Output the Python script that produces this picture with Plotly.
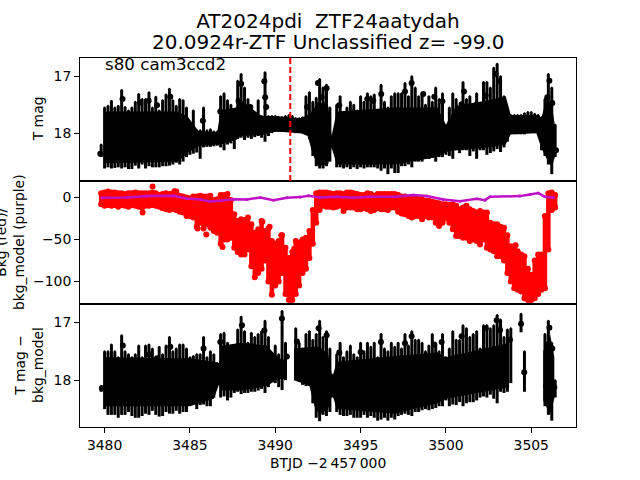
import plotly.graph_objects as go

FONT = "DejaVu Sans"

# observation times (BTJD - 2457000)
t = [3479.8,3480.0,3480.2,3480.4,3480.6,3480.8,3481.0,3481.2,3481.4,3481.6,
     3481.8,3482.0,3482.2,3482.4,3482.6,3482.8,3483.0,3483.2,3483.4,3483.6,
     3483.8,3484.0,3484.2,3484.4,3484.6,3484.8,3485.0,3485.2,3485.4,3485.6,
     3485.8,3486.0,3486.2,3486.4,3486.6,3486.8,3487.0,3487.2,3487.4,3487.6,
     3487.8,3488.0,3488.2,3488.4,3488.6,3488.8,3489.0,3489.2,3489.4,3489.6,
     3489.8,3490.0,3490.2,3490.4,3490.6,3490.8,3491.0,3491.2,3491.4,3491.6,
     3491.8,3492.0,3492.2,3492.4,3492.6,3492.8,3493.0,3493.2,3493.4,3493.6,
     3493.8,3494.0,3494.2,3494.4,3494.6,3494.8,3495.0,3495.2,3495.4,3495.6,
     3495.8,3496.0,3496.2,3496.4,3496.6,3496.8,3497.0,3497.2,3497.4,3497.6,
     3497.8,3498.0,3498.2,3498.4,3498.6,3498.8,3499.0,3499.2,3499.4,3499.6,
     3499.8,3500.0,3500.2,3500.4,3500.6,3500.8,3501.0,3501.2,3501.4,3501.6,
     3501.8,3502.0,3502.2,3502.4,3502.6,3502.8,3503.0,3503.2,3503.4,3503.6,
     3503.8,3504.0,3504.2,3504.4,3504.6,3504.8,3505.0,3505.2,3505.4,3505.6,
     3505.8,3506.0,3506.2,3506.4]

# panel 1: T mag, bright edge and faint edge of the error bars
mag_hi = [18.2,17.55,17.52,17.43,17.55,17.52,17.24,17.54,17.6,17.55,
          17.45,17.31,17.4,17.4,17.28,17.55,17.36,17.6,17.42,17.32,
          17.22,17.42,17.52,17.4,17.42,17.55,17.88,17.6,17.95,17.95,
          17.55,17.95,17.93,17.97,17.97,17.35,17.3,17.42,17.5,17.75,
          17.08,16.96,17.2,17.4,17.55,17.88,17.42,17.7,16.93,17.7,
          17.7,17.7,17.72,17.72,17.7,17.68,17.7,17.74,17.74,17.72,
          17.35,17.28,17.45,17.38,17.05,17.2,17.15,17.55,18.05,17.5,
          17.35,17.65,17.55,17.45,17.5,17.6,17.35,17.45,17.3,17.35,
          17.32,17.6,17.15,17.45,17.55,17.35,17.3,17.3,17.3,17.12,
          17.35,17.0,17.2,17.35,17.32,17.5,17.35,17.45,17.2,17.4,
          17.3,17.9,17.55,17.3,17.4,17.75,17.1,17.4,17.35,17.55,
          17.3,17.65,17.1,17.1,17.2,16.85,16.78,17.0,17.35,17.65,
          17.68,17.68,17.68,17.68,17.65,17.63,17.63,17.66,17.68,17.72,
          17.4,16.96,17.2,17.85]
mag_lo = [18.42,18.62,18.6,18.62,18.61,18.6,18.62,18.6,18.63,18.63,
          18.57,18.62,18.55,18.62,18.58,18.6,18.6,18.6,18.58,18.58,
          18.57,18.55,18.52,18.55,18.5,18.42,18.38,18.36,18.34,18.45,
          18.25,18.24,18.24,18.23,18.22,18.25,18.3,18.2,18.18,18.28,
          18.1,18.08,18.12,18.08,18.1,18.07,18.05,18.08,18.15,18.05,
          18.0,17.98,17.98,17.98,17.98,17.98,17.98,18.0,18.0,18.0,
          18.02,18.1,18.4,18.58,18.62,18.62,18.58,18.5,18.28,18.6,
          18.6,18.62,18.6,18.63,18.6,18.63,18.6,18.62,18.6,18.6,
          18.6,18.62,18.66,18.62,18.72,18.62,18.7,18.7,18.58,18.58,
          18.55,18.6,18.5,18.5,18.5,18.45,18.45,18.43,18.5,18.42,
          18.42,18.38,18.4,18.45,18.3,18.35,18.3,18.3,18.4,18.32,
          18.45,18.3,18.3,18.38,18.35,18.32,18.28,18.33,18.25,18.15,
          18.02,18.02,18.02,18.02,18.02,18.0,17.97,18.0,18.0,18.3,
          18.4,18.55,18.72,18.42]
dots1_t = [3479.75,3481.05,3482.09,3482.58,3483.07,3483.85,3485.76,3486.78,3487.32,3487.85,
           3488.0,3488.54,3489.36,3489.41,3489.47,3490.88,3491.86,3492.5,3492.72,3492.91,
           3493.01,3493.75,3495.39,3495.74,3496.21,3497.6,3497.99,3498.67,3499.32,3499.79,
           3500.92,3501.06,3501.8,3502.33,3502.91,3503.11,3503.56,3505.94,3506.06,3506.23,3506.45]
dots1_mag = [18.36,17.40,17.46,17.43,17.51,17.36,17.78,17.62,17.70,17.43,
             17.13,17.54,17.09,17.37,17.54,17.78,17.54,17.12,17.37,17.51,
             17.21,17.51,17.40,17.43,17.31,17.27,17.12,17.31,17.36,17.44,
             17.49,17.27,17.49,17.34,16.96,17.09,17.66,17.37,17.08,17.47,18.30]

# panel 1: where the many overlapping error bars merge into a solid band
core1_t = [3480.0,3484.3,3484.9,3485.5,3486.6,3486.8,3487.7,3488.0,3489.2,3490.0,
           3491.5,3491.9,3492.2,3492.5,3493.1,3493.3,3493.6,3497.0,3499.5,3500.0,
           3500.6,3502.5,3503.5,3503.8,3505.3,3505.6,3505.9,3506.2,3506.4]
core1_hi = [17.62,17.62,17.72,17.96,17.98,17.6,17.55,17.42,17.7,17.7,
            17.74,17.68,17.6,17.45,17.52,18.05,17.62,17.55,17.55,17.85,
            17.52,17.42,17.35,17.68,17.68,17.72,17.4,17.5,17.9]
core1_lo = [18.53,18.5,18.34,18.23,18.2,18.2,18.12,18.05,18.03,17.97,
            18.0,18.05,18.37,18.57,18.55,18.25,18.55,18.55,18.42,18.33,
            18.3,18.25,18.2,18.02,18.0,18.27,18.45,18.6,18.4]

# panel 2: background flux (red) and background model (purple)
bkg_hi = [5,6,7,6,6,5,5,4,5,5,6,5,5,5,5,6,5,3,4,5,
          4,5,7,2,1,0,-1,1,1,2,1,1,2,-3,-2,3,3,4,-3,-20,
          -28,-26,-27,-24,-32,-42,-38,-28,-40,-37,-52,-55,-52,-45,-60,-72,-65,-52,-55,-50,
          -48,-40,-15,5,6,6,6,5,4,5,5,4,6,6,5,4,3,3,5,4,
          2,4,4,4,4,4,4,3,1,1,0,0,-1,-2,-2,-4,-4,-5,-6,-7,
          -8,-8,-9,-8,-10,-14,-12,-10,-14,-16,-18,-16,-18,-18,-30,-32,-32,-35,-36,-45,
          -58,-62,-64,-68,-70,-85,-92,-75,-68,-68,-22,5,6,3]
bkg_lo = [-8,-10,-9,-10,-9,-11,-9,-10,-11,-9,-10,-11,-12,-10,-10,-9,-10,-11,-13,-14,
          -15,-14,-15,-17,-18,-22,-22,-24,-35,-30,-37,-32,-36,-40,-42,-55,-50,-50,-48,-60,
          -65,-68,-68,-62,-82,-95,-90,-85,-75,-100,-116,-105,-100,-90,-115,-122,-122,-115,-105,-90,
          -85,-72,-55,-30,-15,-10,-11,-11,-12,-11,-10,-16,-12,-12,-12,-14,-14,-13,-14,-16,
          -15,-13,-14,-14,-15,-12,-12,-17,-19,-20,-22,-24,-22,-22,-26,-22,-24,-24,-30,-34,
          -30,-25,-30,-38,-46,-46,-48,-48,-52,-50,-52,-56,-50,-60,-62,-64,-70,-70,-75,-90,
          -100,-108,-110,-112,-120,-122,-122,-120,-115,-110,-108,-62,-15,-12]
bkg_dots_t = [3482.23,3482.81,3484.1,3485.45,3485.96,3486.91,3489.04,3489.25,3489.67,3490.35,3491.11,3491.5,3504.08]
bkg_dots_v = [-18,13,7.5,-37,-44,-59,-40,-29,-35,-45,-61,-53,-57]
model_t = [3479.84,3481.31,3482.48,3484.04,3484.82,3485.61,3486.19,3486.78,3487.56,3488.34,
           3489.12,3489.9,3490.68,3491.46,3491.95,3492.62,3493.6,3494.57,3495.55,3497.11,
           3498.09,3498.87,3499.85,3500.82,3501.8,3502.29,3502.58,3504.34,3504.92,3505.41,3505.8,3506.29]
model_v = [-0.4,0,1.6,2,-1.2,-2.4,-4.8,-4,-2,-2.4,
           0,-3.2,-0.4,0.4,2,0,0.8,-0.4,0.8,0.8,
           2.8,1.6,-2.4,-4.4,-1.6,-3.2,0.8,1.6,3.6,5.2,0.8,0]

# panel 3: T mag - bkg_model
sub_hi = [18.1,17.5,17.5,17.38,17.5,17.6,17.22,17.5,17.55,17.6,
          17.55,17.4,17.6,17.4,17.38,17.45,17.6,17.42,17.55,17.4,
          17.25,17.5,17.45,17.38,17.38,17.45,17.6,17.58,17.55,17.55,
          17.25,17.6,17.5,17.55,17.7,17.2,17.18,17.35,17.45,17.5,
          17.12,16.9,17.15,17.35,17.18,17.25,17.2,17.15,16.97,17.25,
          17.6,17.4,17.55,16.8,17.35,None,None,17.1,17.35,17.45,
          17.2,17.15,17.3,17.2,16.97,17.25,17.15,17.45,17.9,17.55,
          17.35,17.6,17.5,17.4,17.55,17.6,17.35,17.5,17.35,17.42,
          17.35,17.6,17.2,17.45,17.5,17.35,17.42,17.35,17.45,17.2,
          17.4,17.15,17.3,17.3,17.35,17.5,17.4,17.2,17.4,17.5,
          17.2,17.6,17.45,17.15,17.3,17.3,17.05,17.1,17.25,17.2,
          17.15,17.45,17.05,17.05,17.1,17.05,16.87,16.95,17.25,17.12,
          17.1,None,None,16.85,17.5,None,None,None,None,None,
          17.2,16.97,17.35,18.0]
sub_lo = [18.2,18.5,18.6,18.6,18.6,18.65,18.6,18.6,18.55,18.62,
          18.65,18.65,18.62,18.58,18.6,18.53,18.6,18.63,18.62,18.55,
          18.58,18.58,18.53,18.58,18.55,18.55,18.42,18.35,18.5,18.43,
          18.42,18.45,18.45,18.3,18.05,18.3,18.28,18.35,18.3,18.22,
          18.2,18.24,18.22,18.22,18.2,18.2,18.18,18.15,18.22,18.12,
          18.0,18.05,18.12,18.17,18.0,None,None,18.0,18.02,18.08,
          18.1,18.1,18.4,18.65,18.71,18.6,18.62,18.55,18.3,18.55,
          18.6,18.62,18.62,18.6,18.65,18.65,18.65,18.6,18.65,18.62,
          18.65,18.7,18.68,18.65,18.7,18.65,18.68,18.62,18.6,18.58,
          18.6,18.62,18.55,18.55,18.52,18.5,18.52,18.5,18.48,18.45,
          18.45,18.35,18.45,18.42,18.43,18.38,18.45,18.4,18.38,18.38,
          18.35,18.3,18.28,18.3,18.25,18.32,18.4,18.2,18.22,18.2,
          18.05,None,None,17.17,18.2,None,None,None,None,None,
          18.45,18.6,18.7,18.3]
dots3_t = [3479.84,3481.07,3482.62,3483.07,3483.85,3485.8,3486.45,3486.78,3488.05,3489.36,
           3490.39,3490.68,3491.27,3492.54,3493.01,3493.75,3495.0,3496.19,3497.6,3497.99,
           3499.32,3499.75,3500.92,3502.33,3502.97,3503.17,3503.75,3504.4,3504.59,3505.86,
           3505.94,3506.06,3506.23,3506.35]
dots3_mag = [18.14,17.40,17.55,17.62,17.42,17.45,17.88,17.34,17.05,17.14,
             16.93,17.59,17.33,17.10,17.22,17.52,17.51,17.34,17.36,17.24,
             17.38,17.34,17.24,17.10,16.96,17.13,17.30,17.02,17.86,18.10,
             17.38,17.09,17.45,18.12]

# panel 3: solid band, None marks the gaps in coverage
core3_t = [3480.0,3485.0,3486.4,3486.7,3486.9,3488.0,3489.5,3490.2,3490.6,None,
           3491.1,3492.0,3492.3,3492.6,3493.1,3493.35,3493.6,3497.0,3499.5,3500.0,3503.7,None,
           3505.7,3506.1,3506.35]
core3_hi = [17.6,17.62,17.68,17.7,17.4,17.35,17.4,17.62,17.65,None,
            17.45,17.42,17.42,17.42,17.55,17.95,17.68,17.58,17.52,17.6,17.35,None,
            17.5,17.2,17.6]
core3_lo = [18.45,18.45,18.32,18.08,18.18,18.18,18.1,17.98,17.98,None,
            18.0,18.1,18.45,18.6,18.5,18.25,18.5,18.58,18.4,18.32,18.12,None,
            18.35,18.6,18.32]

vline_t = 3490.88
x_ticks = [3480, 3485, 3490, 3495, 3500, 3505]
mag_ticks = [17, 18]
bkg_ticks = [0, -50, -100]

BAR_BLACK = 3
BAR_RED = 4.5


def bars(x, hi, lo, color, xa, ya, size, bar):
    plus = [None if a is None else round(b - a, 3) for a, b in zip(hi, lo)]
    return go.Scatter(x=x, y=hi, mode="markers", xaxis=xa, yaxis=ya, showlegend=False,
                      marker=dict(color=color, size=size),
                      error_y=dict(type="data", symmetric=False, array=plus,
                                   arrayminus=[0 for _ in plus], color=color,
                                   thickness=bar, width=0))


def dots(x, y, color, xa, ya, size):
    return go.Scatter(x=x, y=y, mode="markers", xaxis=xa, yaxis=ya, showlegend=False,
                      marker=dict(color=color, size=size))


def band(x, hi, lo, color, xa, ya):
    px, py, sx, sh, sl = [], [], [], [], []
    for a, b, c in list(zip(x, hi, lo)) + [(None, None, None)]:
        if a is None:
            px += sx + sx[::-1] + [None]
            py += sh + sl[::-1] + [None]
            sx, sh, sl = [], [], []
        else:
            sx.append(a)
            sh.append(b)
            sl.append(c)
    return go.Scatter(x=px, y=py, mode="lines", fill="toself", fillcolor=color, xaxis=xa, yaxis=ya,
                      showlegend=False, line=dict(color=color, width=0))


fig = go.Figure()
fig.add_trace(band(core1_t, core1_hi, core1_lo, "black", "x", "y"))
fig.add_trace(bars(t, mag_hi, mag_lo, "black", "x", "y", 2, BAR_BLACK))
fig.add_trace(dots(dots1_t, dots1_mag, "black", "x", "y", 6))
fig.add_trace(bars(t, bkg_hi, bkg_lo, "red", "x2", "y2", 6, BAR_RED))
fig.add_trace(dots(t, bkg_lo, "red", "x2", "y2", 6))
fig.add_trace(dots(bkg_dots_t, bkg_dots_v, "red", "x2", "y2", 6))
fig.add_trace(go.Scatter(x=model_t, y=model_v, mode="lines+markers", xaxis="x2", yaxis="y2",
                         showlegend=False, line=dict(color="#bf10c8", width=2.5),
                         marker=dict(color="#bf10c8", size=3)))
fig.add_trace(band(core3_t, core3_hi, core3_lo, "black", "x3", "y3"))
fig.add_trace(bars(t, sub_hi, sub_lo, "black", "x3", "y3", 2, BAR_BLACK))
fig.add_trace(dots(dots3_t, dots3_mag, "black", "x3", "y3", 6))

xbase = dict(range=[3478.56, 3507.62], showgrid=False, zeroline=False, showline=True,
             mirror=True, linecolor="black", linewidth=1.1)
ybase = dict(showgrid=False, zeroline=False, showline=True, mirror=True, linecolor="black",
             linewidth=1.1, ticks="outside", ticklen=4.9, tickwidth=1.1, tickcolor="black",
             tickmode="array")

fig.update_layout(
    width=640, height=480, autosize=False,
    margin=dict(l=80, r=64, t=57.6, b=52.8, pad=0),
    paper_bgcolor="white", plot_bgcolor="white",
    font=dict(family=FONT, size=13.9, color="black"),
    showlegend=False,
    xaxis=dict(xbase, domain=[0, 1], anchor="y", showticklabels=False, ticks=""),
    xaxis2=dict(xbase, domain=[0, 1], anchor="y2", showticklabels=False, ticks=""),
    xaxis3=dict(xbase, domain=[0, 1], anchor="y3", ticks="outside", ticklen=4.9, tickwidth=1.1,
                tickcolor="black", tickmode="array", tickvals=x_ticks,
                ticktext=[str(v) for v in x_ticks]),
    yaxis=dict(ybase, domain=[2 / 3, 1], range=[18.84, 16.68], tickvals=mag_ticks, anchor="x"),
    yaxis2=dict(ybase, domain=[1 / 3, 2 / 3], range=[-126.9, 19.6], tickvals=bkg_ticks, anchor="x2"),
    yaxis3=dict(ybase, domain=[0, 1 / 3], range=[18.81, 16.68], tickvals=mag_ticks, anchor="x3"),
    title=dict(text="AT2024pdi\u00a0\u00a0ZTF24aatydah", font=dict(family=FONT, size=20),
               x=328 / 640, xanchor="center", xref="container",
               y=1 - 21 / 480, yanchor="middle"),
)


def note(text, px, py, size=13.9, angle=0, xanchor="center"):
    fig.add_annotation(text=text, xref="paper", yref="paper",
                       x=(px - 80) / 496, y=(427.2 - py) / 369.6, xanchor=xanchor,
                       yanchor="middle", textangle=angle, showarrow=False,
                       font=dict(family=FONT, size=size, color="black"))


note("20.0924r-ZTF Unclassified z= -99.0", 328, 42, size=20)
note("s80 cam3ccd2", 103, 64, size=16.7, xanchor="left")
note("T mag", 38, 119, angle=-90)
note("Bkg (red)/<br>bkg_model (purple)", 10, 242, angle=-90)
note("T mag \u2212<br>bkg_model", 29, 365, angle=-90)
note("BTJD \u22122\u2009457\u2009000", 328, 463)

fig.add_shape(type="line", xref="x", yref="y domain", x0=vline_t, x1=vline_t, y0=0, y1=1,
              line=dict(color="red", width=2, dash="6px,3px"), layer="above")

fig.write_html("out.html", post_script="document.body.style.margin='0';",
               config=dict(displayModeBar=False))
